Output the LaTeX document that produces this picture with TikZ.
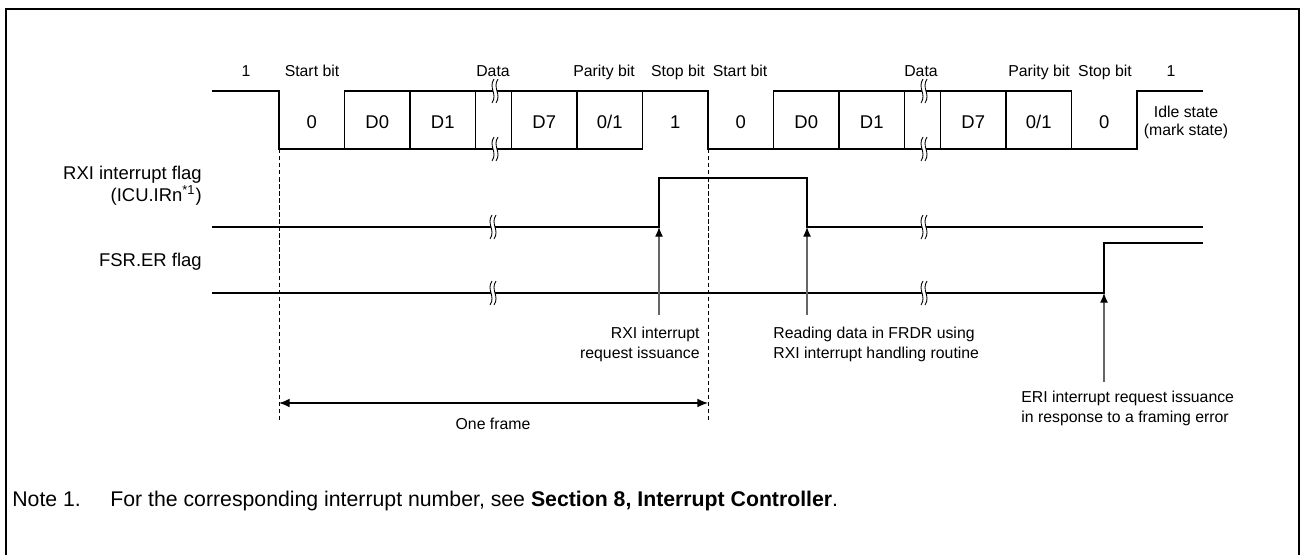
\documentclass[tikz,border=0pt]{standalone}
\usepackage{fontspec}
\setmainfont{Liberation Sans}
\usetikzlibrary{arrows.meta}

\begin{document}
\begin{tikzpicture}[x=0.02cm, y=-0.02cm,
  every node/.style={inner sep=0pt, font=\fontsize{9}{11.3}\selectfont},
  sig/.style={line width=0.9pt},
  guide/.style={line width=0.5pt, dash pattern=on 2.5pt off 1.5pt},
  pointer/.style={line width=0.6pt, black!60, -{Latex[length=5.5pt,width=4.5pt,color=black]}},
  lbl/.style={anchor=base},
  biglbl/.style={font=\fontsize{10.5}{11}\selectfont}]
  \useasboundingbox (0,0) rectangle (1301,555);

  % Outer frame
  \draw[line width=1.1pt] (6,555) -- (6,9) -- (1299,9) -- (1299,555);

  % Serial data waveform
  \draw[sig] (212,91) -- (279,91) -- (279,149) -- (642.5,149);
  \draw[sig] (344.5,149) -- (344.5,91) -- (708,91) -- (708,149) -- (1137,149) -- (1137,91) -- (1203,91);
  \draw[sig] (1071.5,91) -- (773.5,91) -- (773.5,149);
  \foreach \x in {410,475.5,511.5,577,642.5,839,904.5,940.5,1006,1071.5}
    \draw[sig] (\x,91) -- (\x,149);

  % Bit labels
  \node[lbl] (one1) at (246,76) {1};
  \node[lbl] (start1) at (312,76) {Start bit};
  \node[lbl] (data1) at (493,76) {Data};
  \node[lbl] (par1) at (604,76) {Parity bit};
  \node[lbl] (stop1) at (678,76) {Stop bit};
  \node[lbl] (start2) at (740,76) {Start bit};
  \node[lbl] (data2) at (921,76) {Data};
  \node[lbl] (par2) at (1039,76) {Parity bit};
  \node[lbl] (stop2) at (1105,76) {Stop bit};
  \node[lbl] (one2) at (1171,76) {1};
  \foreach \x/\t [count=\i] in {311.75/0, 377.25/D0, 442.75/D1, 544.25/D7, 609.75/0\slash1, 675.25/1,
                                740.75/0, 806.25/D0, 871.75/D1, 973.25/D7, 1038.75/0\slash1, 1104.25/0}
    \node[lbl, biglbl] (bit\i) at (\x,128) {\t};
  \node[align=center, anchor=north, font=\fontsize{9}{10.3}\selectfont] (idle) at (1186,106) {Idle state\\(mark state)};

  % Flags
  \node[biglbl, align=right, anchor=north east] (rxilbl) at (202,166) {RXI interrupt flag\\(ICU.IRn\textsuperscript{*1})};
  \node[biglbl, lbl, anchor=base east] (fsrlbl) at (202,266) {FSR.ER flag};
  \draw[sig] (212,227) -- (659,227) -- (659,178) -- (807,178) -- (807,227) -- (1203,227);
  \draw[sig] (212,293) -- (1104,293) -- (1104,243) -- (1203,243);

  % Break marks
  \foreach \bx/\by in {493/91, 493/149, 922/91, 922/149, 491/227, 922/227, 491/293, 922/293} {
    \fill[white] (\bx+1,\by-12) .. controls (\bx-5,\by-3) and (\bx+5,\by+3) .. (\bx-1,\by+12)
      -- (\bx+3,\by+12) .. controls (\bx+9,\by+3) and (\bx-1,\by-3) .. (\bx+5,\by-12) -- cycle;
    \draw[line width=0.5pt] (\bx+1,\by-12) .. controls (\bx-5,\by-3) and (\bx+5,\by+3) .. (\bx-1,\by+12);
    \draw[line width=0.5pt] (\bx+5,\by-12) .. controls (\bx-1,\by-3) and (\bx+9,\by+3) .. (\bx+3,\by+12);
  }

  % Annotations
  \coordinate (rxirise) at (659,227);
  \coordinate (rxibase) at (659,315);
  \coordinate (rxifall) at (807,227);
  \coordinate (readbase) at (807,315);
  \coordinate (errise) at (1104,293);
  \coordinate (eribase) at (1104,382);
  \draw[pointer] (rxibase) -- (rxirise);
  \draw[pointer] (readbase) -- (rxifall);
  \draw[pointer] (eribase) -- (errise);
  \node[align=right, anchor=north east] (rxitxt) at (700,327) {RXI interrupt\\request issuance};
  \node[align=left, anchor=north west] (readtxt) at (773,327) {Reading data in FRDR using\\RXI interrupt handling routine};
  \node[align=left, anchor=north west] (eritxt) at (1021,391) {ERI interrupt request issuance\\in response to a framing error};

  % One frame
  \draw[guide] (279,149) -- (279,423);
  \draw[guide] (708,149) -- (708,423);
  \coordinate (fstart) at (279,403);
  \coordinate (fend) at (708,403);
  \draw[line width=0.9pt, {Latex[length=6pt,width=5pt]}-{Latex[length=6pt,width=5pt]}] (fstart) -- (fend);
  \node[lbl] (frametxt) at (493,429) {One frame};

  % Note
  \node[lbl, anchor=base west, font=\fontsize{12.1}{14}\selectfont] (note) at (12,506) {Note 1.};
  \node[lbl, anchor=base west, font=\fontsize{12.1}{14}\selectfont] (notetxt) at (110,506) {For the corresponding interrupt number, see \textbf{Section 8, Interrupt Controller}.};
\end{tikzpicture}
\end{document}
